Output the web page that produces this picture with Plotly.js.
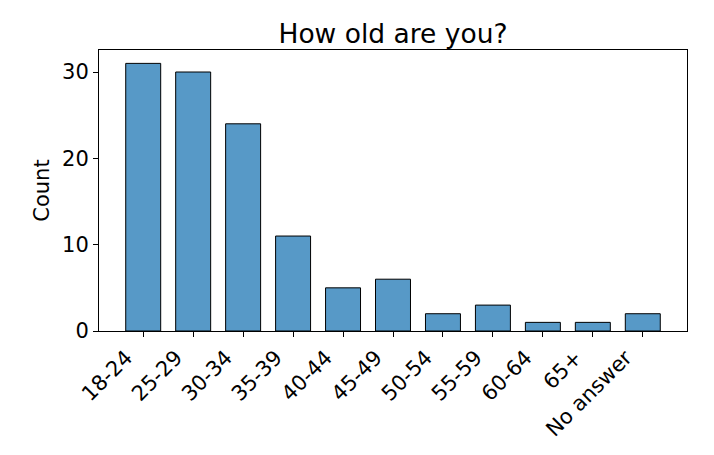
<!DOCTYPE html>
<html>
<head>
<meta charset="utf-8">
<script src="https://cdn.plot.ly/plotly-3.0.1.min.js"></script>
<style>html,body{margin:0;padding:0;background:#fff;}#chart{width:714px;height:455px;}</style>
</head>
<body>
<div id="chart"></div>
<script>
const categories = ["18-24","25-29","30-34","35-39","40-44","45-49","50-54","55-59","60-64","65+","No answer"];
const counts = [31,30,24,11,5,6,2,3,1,1,2];
const yTicks = [0,10,20,30];

const font = "DejaVu Sans, sans-serif";
const trace = {
  type: "bar",
  x: categories,
  y: counts,
  width: 0.7,
  marker: {color: "rgba(31,119,180,0.75)", line: {color: "#000", width: 1}},
  hoverinfo: "skip"
};
const layout = {
  width: 714, height: 455,
  margin: {l: 99, r: 27, t: 50, b: 124},
  paper_bgcolor: "#fff", plot_bgcolor: "#fff",
  showlegend: false,
  font: {family: font, color: "#000"},
  title: {text: "How old are you?", font: {family: font, size: 26.5, color: "#000"}, x: 0.5, xref: "paper", y: 0.925, yref: "container", xanchor: "center", yanchor: "middle"},
  xaxis: {
    type: "category", range: [-0.885, 10.885],
    tickangle: -45, tickfont: {family: font, size: 21},
    ticklabelshift: -17, ticklabelstandoff: 0,
    ticks: "outside", ticklen: 5, tickwidth: 1, tickcolor: "#000",
    showline: true, mirror: true, linecolor: "#000", linewidth: 1,
    showgrid: false, zeroline: false
  },
  yaxis: {
    range: [0, 32.55], tickvals: yTicks, ticktext: yTicks.map(String),
    tickfont: {family: font, size: 21},
    ticks: "outside", ticklen: 5, tickwidth: 1, tickcolor: "#000",
    showline: true, mirror: true, linecolor: "#000", linewidth: 1,
    showgrid: false, zeroline: false,
    title: {text: "Count", font: {family: font, size: 21}, standoff: 6}
  }
};
Plotly.newPlot("chart", [trace], layout, {staticPlot: true, displayModeBar: false});
</script>
</body>
</html>
